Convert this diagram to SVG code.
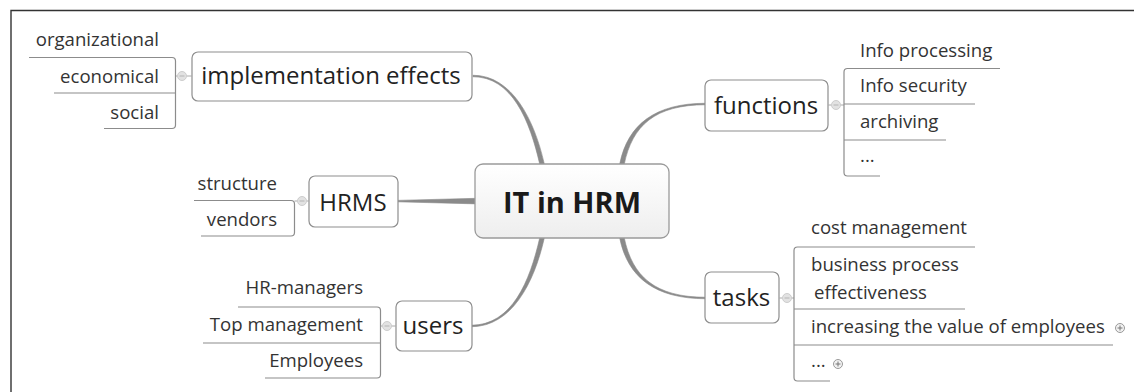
<svg xmlns="http://www.w3.org/2000/svg" width="1134" height="392" viewBox="0 0 1134 392">
<defs>
<style>
.frame{fill:none;stroke:#333;stroke-width:1.4}
.conn{fill:#8a8a8a;stroke:#8a8a8a;stroke-width:0.6}
.box{fill:#fff;stroke:#8e8e8e;stroke-width:1.2}
.main{font-family:"Open Sans","Noto Sans",sans-serif;font-size:24px;fill:#222;text-anchor:middle}
.sub{font-family:"Open Sans","Noto Sans",sans-serif;font-size:18.6px;fill:#333}
.end{text-anchor:end}
.line{fill:none;stroke:#8c8c8c;stroke-width:1.2}
.tiny{fill:none;stroke:#aaa;stroke-width:1}
.col{fill:#e2e2e2;stroke:#cdcdcd;stroke-width:1}
.minus{stroke:#b4b4b4;stroke-width:1}
.exp{fill:#f2f2f2;stroke:#999;stroke-width:1}
.plus{stroke:#777;stroke-width:1}
</style>
<linearGradient id="cg" x1="0" y1="0" x2="0" y2="1">
<stop offset="0" stop-color="#ffffff"/>
<stop offset="1" stop-color="#eeeeee"/>
</linearGradient>
</defs>
<rect width="1134" height="392" fill="#fff"/>
<path class="frame" d="M11 392 V10.5 H1134"/>

<g id="connectors">
<path class="conn" d="M544.2 166 L544.2 163.5 C534.2 119.5 512 75.25 473 75.25 L473 76.75 C512 76.75 529.8 120.5 539.8 164.5 L539.8 166 Z"/>
<path class="conn" d="M624.2 166 L624.2 164.45 C632.2 125.45 655 104.75 706 104.75 L706 103.25 C655 103.25 627.8 124.55 619.8 163.55 L619.8 166 Z"/>
<path class="conn" d="M544.2 236 L544.2 238.5 C534.2 282.5 512 326.75 471 326.75 L471 325.25 C512 325.25 529.8 281.5 539.8 237.5 L539.8 236 Z"/>
<path class="conn" d="M624.2 236 L624.2 237.55 C632.2 276.55 655 297.25 706 297.25 L706 298.75 C655 298.75 627.8 277.45 619.8 238.45 L619.8 236 Z"/>
<path class="conn" d="M397 200.4 L477 198.3 L477 203.9 L397 201.8 Z"/>
</g>

<g id="central">
<rect x="475" y="164" width="194" height="74" rx="8" fill="url(#cg)" stroke="#9a9a9a" stroke-width="1.3"/>
<text x="572" y="213" font-family="'Open Sans','Noto Sans',sans-serif" font-size="29" font-weight="bold" fill="#1a1a1a" text-anchor="middle">IT in HRM</text>
</g>

<g id="implementation-effects">
<rect class="box" x="192" y="52" width="280" height="49" rx="6"/>
<text class="main" x="331" y="84">implementation effects</text>
<path class="tiny" d="M186.5 76 H192 M175.5 76 H177.5"/>
<circle class="col" cx="182" cy="76" r="4.5"/>
<path class="minus" d="M179.5 76 H184.5"/>
<path class="line" d="M29 57.5 H172 Q175.5 57.5 175.5 61 V125 Q175.5 128.5 172 128.5 H104 M54 93 H175.5"/>
<text class="sub end" x="159" y="46">organizational</text>
<text class="sub end" x="159" y="83">economical</text>
<text class="sub end" x="159" y="119">social</text>
</g>

<g id="hrms">
<rect class="box" x="309" y="176" width="89" height="51" rx="6"/>
<text class="main" x="353" y="211">HRMS</text>
<path class="tiny" d="M306.5 201 H309 M294.5 201 H297.5"/>
<circle class="col" cx="302" cy="201" r="4.5"/>
<path class="minus" d="M299.5 201 H304.5"/>
<path class="line" d="M194 200.5 H291 Q294.5 200.5 294.5 204 V232.5 Q294.5 236 291 236 H201"/>
<text class="sub end" x="277" y="190">structure</text>
<text class="sub end" x="277" y="226">vendors</text>
</g>

<g id="users">
<rect class="box" x="396" y="301" width="76" height="50" rx="6"/>
<text class="main" x="433" y="334">users</text>
<path class="tiny" d="M391.5 326 H396 M380.5 326 H382.5"/>
<circle class="col" cx="387" cy="326" r="4.5"/>
<path class="minus" d="M384.5 326 H389.5"/>
<path class="line" d="M238 307 H377 Q380.5 307 380.5 310.5 V374.5 Q380.5 378 377 378 H265 M203 343 H380.5"/>
<text class="sub end" x="363" y="294">HR-managers</text>
<text class="sub end" x="363" y="331">Top management</text>
<text class="sub end" x="363" y="367">Employees</text>
</g>

<g id="functions">
<rect class="box" x="705" y="80" width="123" height="51" rx="6"/>
<text class="main" x="766" y="114">functions</text>
<path class="tiny" d="M828 105 H831.5 M840.5 105 H844"/>
<circle class="col" cx="836" cy="105" r="4.5"/>
<path class="minus" d="M833.5 105 H838.5"/>
<path class="line" d="M1000 68.5 H847.5 Q844 68.5 844 72 V172.5 Q844 176 847.5 176 H880 M844 104 H975 M844 140 H946"/>
<text class="sub" x="860" y="57">Info processing</text>
<text class="sub" x="860" y="92">Info security</text>
<text class="sub" x="860" y="128">archiving</text>
<text class="sub" x="860" y="162" font-size="14">...</text>
</g>

<g id="tasks">
<rect class="box" x="705" y="272" width="74" height="51" rx="6"/>
<text class="main" x="741.5" y="306">tasks</text>
<path class="tiny" d="M779 298 H782.5 M791.5 298 H794"/>
<circle class="col" cx="787" cy="298" r="4.5"/>
<path class="minus" d="M784.5 298 H789.5"/>
<path class="line" d="M975 247 H797.5 Q794 247 794 250.5 V377.5 Q794 381 797.5 381 H830 M794 309 H965 M794 345 H1113"/>
<text class="sub" x="811" y="234">cost management</text>
<text class="sub" x="811" y="271">business process</text>
<text class="sub" x="814" y="299">effectiveness</text>
<text class="sub" x="811" y="333">increasing the value of employees</text>
<circle class="exp" cx="1120" cy="328" r="4.5"/>
<path class="plus" d="M1117.5 328 H1122.5 M1120 325.5 V330.5"/>
<text class="sub" x="811" y="367" font-size="14">...</text>
<circle class="exp" cx="838" cy="364" r="4.5"/>
<path class="plus" d="M835.5 364 H840.5 M838 361.5 V366.5"/>
</g>
</svg>
